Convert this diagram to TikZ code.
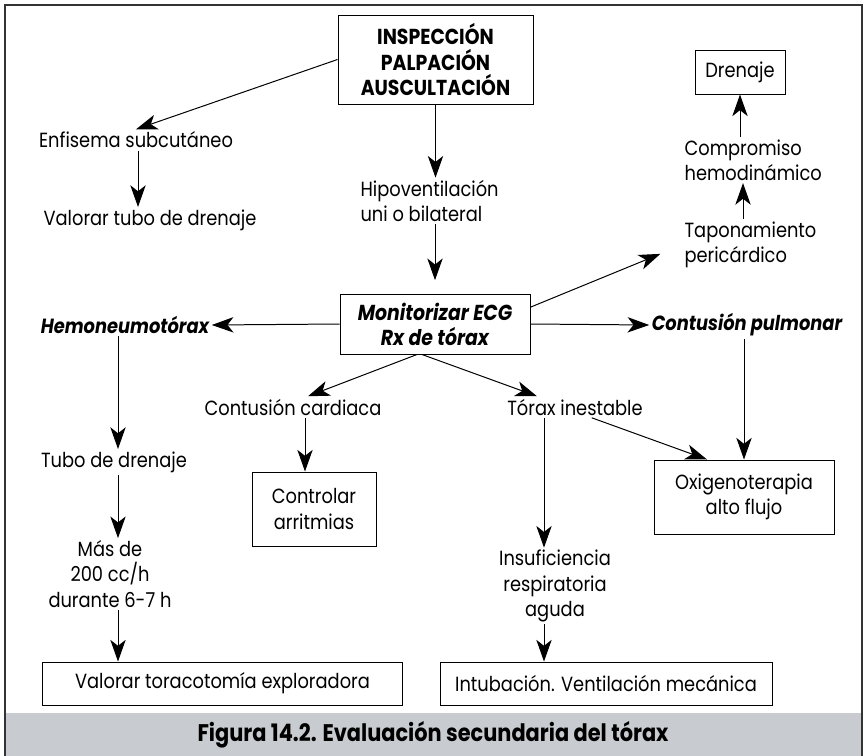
\documentclass[tikz,border=0pt]{standalone}
\usepackage{fontspec}
\setmainfont{Poppins}[FakeStretch=0.87]
\usetikzlibrary{arrows.meta,positioning}

\newcommand{\txtsize}{\fontsize{17.5}{21.5}\selectfont}
\newcommand{\boldsize}{\fontsize{18.5}{21.5}\selectfont\bfseries}
\definecolor{capgray}{RGB}{200,203,207}

\tikzset{
  arr/.style={-{Stealth[length=6.5mm,width=4.6mm,inset=1.8mm]},line width=0.85pt},
  box/.style={draw,line width=0.85pt,align=center,inner sep=0pt,font=\txtsize},
  txt/.style={align=center,inner sep=2pt,font=\txtsize},
  bfit/.style={font=\boldsize\itshape},
}

\begin{document}
\begin{tikzpicture}[x=0.03cm,y=-0.03cm]
    \useasboundingbox (0,0) rectangle (866,756);
    % frame and caption band
    \fill[capgray] (5,713) rectangle (862,756);
    \draw[line width=1pt,black!80] (5,756) -- (5,5) -- (862,5) -- (862,756);
    \node[font=\fontsize{20.5}{22}\selectfont\bfseries] (caption) at (433,735) {Figura 14.2. Evaluación secundaria del tórax};

    \node[box,minimum width=5.85cm,minimum height=2.67cm,font=\boldsize] (insp) at (435.5,59.5) {INSPECCIÓN\\PALPACIÓN\\AUSCULTACIÓN};
    \node[txt] (enfis) at (136,140) {Enfisema subcutáneo};
    \node[txt] (valtubo) at (150,220) {Valorar tubo de drenaje};
    \node[txt,anchor=west,align=left] (hipo) at (358,201) {Hipoventilación\\uni o bilateral};
    \node[box,minimum width=2.7cm,minimum height=1.32cm] (dren) at (740,72) {Drenaje};
    \node[txt,anchor=west,align=left] (comprom) at (682,160) {Compromiso\\hemodinámico};
    \node[txt,anchor=west,align=left] (tapon) at (682,245) {Taponamiento\\pericárdico};
    \node[box,minimum width=5.7cm,minimum height=1.8cm,bfit] (monit) at (435,324) {Monitorizar ECG\\Rx de tórax};
    \node[txt,font=\txtsize\bfseries\itshape] (hemo) at (125,325) {Hemoneumotórax};
    \node[txt,font=\txtsize\bfseries\itshape] (contpul) at (747,325) {Contusión pulmonar};
    \node[txt] (contcard) at (293,407) {Contusión cardiaca};
    \node[txt] (torax) at (575,407) {Tórax inestable};
    \node[box,minimum width=3.72cm,minimum height=2.22cm] (control) at (314,509) {Controlar\\arritmias};
    \node[box,minimum width=5.4cm,minimum height=2.22cm] (oxi) at (744,497) {Oxigenoterapia\\alto flujo};
    \node[txt] (tubo) at (114,462) {Tubo de drenaje};
    \node[txt] (masde) at (110,574) {Más de\\200 cc/h\\durante 6-7 h};
    \node[txt] (insuf) at (555,586) {Insuficiencia\\respiratoria\\aguda};
    \node[box,minimum width=10.77cm,minimum height=1.29cm] (valtora) at (222.5,683.5) {Valorar toracotomía exploradora};
    \node[box,minimum width=9.96cm,minimum height=1.29cm] (intub) at (606,683.5) {Intubación. Ventilación mecánica};

    % upper part
    \draw[arr] (insp.west) -- (enfis.north);
    \draw[arr] ([xshift=0.06cm]enfis.south) -- ([xshift=0.06cm]enfis.south |- valtubo.north);
    \draw[arr] (insp.south) -- (insp.south |- hipo.north);
    \draw[arr,shorten >=0.4cm] (monit.north |- hipo.south) -- (monit.north);
    \draw[arr] ([xshift=1.83cm]tapon.north west) -- ([xshift=1.83cm]tapon.north west |- comprom.south);
    \draw[arr] (dren.south |- comprom.north) -- (dren.south);

    % from the ECG box
    \draw[arr] (monit.west) -- (hemo.east);
    \draw[arr] (monit.east) -- (contpul.west);
    \draw[arr,shorten >=0.7cm] (monit.10) -- (tapon.west);
    \draw[arr] ([xshift=-0.54cm]monit.south) -- ([xshift=0.45cm]contcard.north);
    \draw[arr] ([xshift=-0.39cm]monit.south) -- ([xshift=-1.14cm]torax.north);

    % lower part
    \draw[arr] ([xshift=0.36cm]contcard.south) -- ([xshift=0.36cm]contcard.south |- control.north);
    \draw[arr] ([xshift=0.5cm]torax.south) -- ([xshift=-1.11cm]oxi.north);
    \draw[arr] ([xshift=-0.93cm]torax.south) -- ([xshift=-0.93cm]torax.south |- insuf.north);
    \draw[arr] ([xshift=-0.33cm]insuf.south) -- ([xshift=-0.33cm]insuf.south |- intub.north);
    \draw[arr] (oxi.north |- contpul.south) -- (oxi.north);
    \draw[arr] ([xshift=-0.21cm]hemo.south) -- ([xshift=-0.21cm]hemo.south |- tubo.north);
    \draw[arr] ([xshift=0.12cm]tubo.south) -- ([xshift=0.12cm]tubo.south |- masde.north);
    \draw[arr] ([xshift=0.24cm]masde.south) -- ([xshift=0.24cm]masde.south |- valtora.north);
\end{tikzpicture}
\end{document}
